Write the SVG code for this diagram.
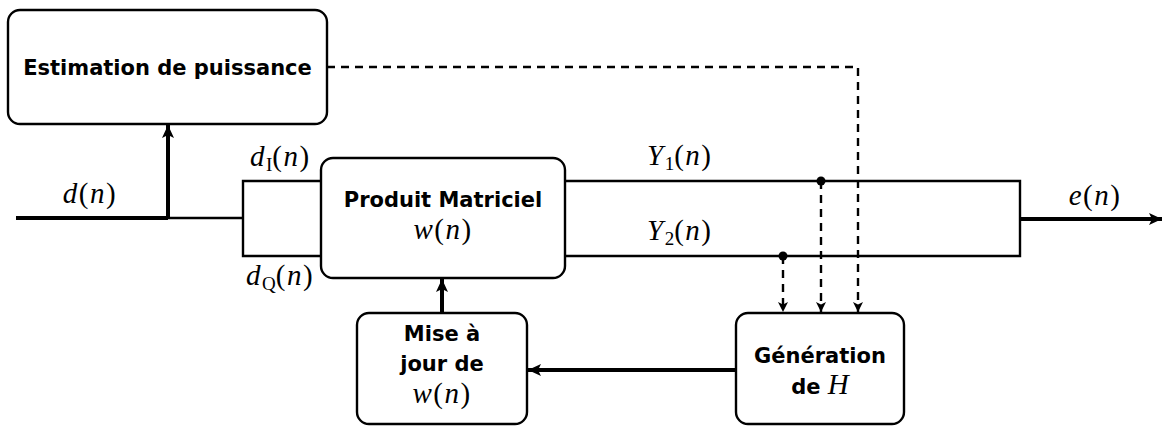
<svg xmlns="http://www.w3.org/2000/svg" width="1163" height="427" viewBox="0 0 1163 427">
<style>
.box{fill:#fff;stroke:#000;stroke-width:2.4}
.ln{fill:none;stroke:#000;stroke-width:2.4}
.thick{fill:none;stroke:#000;stroke-width:4}
.dash{fill:none;stroke:#000;stroke-width:2.4;stroke-dasharray:8 6}
.lbl{font-family:"DejaVu Sans","Liberation Sans",sans-serif;font-weight:bold;font-size:21px;text-anchor:middle;fill:#000}
.m{font-family:"Liberation Serif","Times New Roman",serif;font-size:29px;letter-spacing:1.5px;fill:#000}
.i{font-style:italic}
.sub{font-size:19px;letter-spacing:0}
</style>
<defs>
<marker id="ah" markerUnits="userSpaceOnUse" markerWidth="14" markerHeight="12" refX="13" refY="6" orient="auto">
<path d="M0,0 L13,6 L0,12 L3,6 z" fill="#000"/>
</marker>
<marker id="ahs" markerUnits="userSpaceOnUse" markerWidth="11" markerHeight="10" refX="10" refY="5" orient="auto">
<path d="M0,0 L10,5 L0,10 L2.5,5 z" fill="#000"/>
</marker>
</defs>
<g id="connectors">
<path class="thick" d="M16,218 H168"/>
<path class="ln" d="M168,218 H243"/>
<path class="thick" d="M168,218 V125" marker-end="url(#ah)"/>
<path class="ln" d="M321,181 H243 V256 H321"/>
<path class="ln" d="M565,181 H1020 V256 H565"/>
<path class="thick" d="M1020,219 H1162" marker-end="url(#ah)"/>
<path class="dash" d="M327,67 H858 V312" marker-end="url(#ahs)"/>
<path class="dash" d="M821,181 V312" marker-end="url(#ahs)"/>
<path class="dash" d="M783,256 V312" marker-end="url(#ahs)"/>
<circle cx="821" cy="181" r="4.5" fill="#000"/>
<circle cx="783" cy="256" r="4.5" fill="#000"/>
<path class="thick" d="M736,370 H528" marker-end="url(#ah)"/>
<path class="thick" d="M442,313 V279" marker-end="url(#ah)"/>
</g>
<g id="estimation">
<rect class="box" x="8" y="10" width="319" height="114" rx="12"/>
<text class="lbl" x="167.5" y="75">Estimation de puissance</text>
</g>
<g id="produit">
<rect class="box" x="321" y="158" width="244" height="120" rx="12"/>
<text class="lbl" x="443" y="207">Produit Matriciel</text>
<text class="m" x="443" y="239" text-anchor="middle"><tspan class="i">w</tspan>(<tspan class="i">n</tspan>)</text>
</g>
<g id="miseajour">
<rect class="box" x="357" y="313" width="170" height="111" rx="12"/>
<text class="lbl" x="442" y="341">Mise à</text>
<text class="lbl" x="442" y="371">jour de</text>
<text class="m" x="442" y="403" text-anchor="middle"><tspan class="i">w</tspan>(<tspan class="i">n</tspan>)</text>
</g>
<g id="generation">
<rect class="box" x="736" y="313" width="168" height="111" rx="12"/>
<text class="lbl" x="820" y="363">Génération</text>
<text class="lbl" x="820" y="394">de <tspan font-family="Liberation Serif,serif" font-style="italic" font-weight="normal" font-size="29">H</tspan></text>
</g>
<g id="labels">
<text class="m" x="90" y="203" text-anchor="middle"><tspan class="i">d</tspan>(<tspan class="i">n</tspan>)</text>
<text class="m" x="250" y="166"><tspan class="i">d</tspan><tspan class="sub" dy="5">I</tspan><tspan dy="-5">(</tspan><tspan class="i">n</tspan>)</text>
<text class="m" x="246" y="285"><tspan class="i">d</tspan><tspan class="sub" dy="5">Q</tspan><tspan dy="-5">(</tspan><tspan class="i">n</tspan>)</text>
<text class="m" x="647" y="165"><tspan class="i">Y</tspan><tspan class="sub" dy="5">1</tspan><tspan dy="-5">(</tspan><tspan class="i">n</tspan>)</text>
<text class="m" x="647" y="240"><tspan class="i">Y</tspan><tspan class="sub" dy="5">2</tspan><tspan dy="-5">(</tspan><tspan class="i">n</tspan>)</text>
<text class="m" x="1095" y="205" text-anchor="middle"><tspan class="i">e</tspan>(<tspan class="i">n</tspan>)</text>
</g>
</svg>
